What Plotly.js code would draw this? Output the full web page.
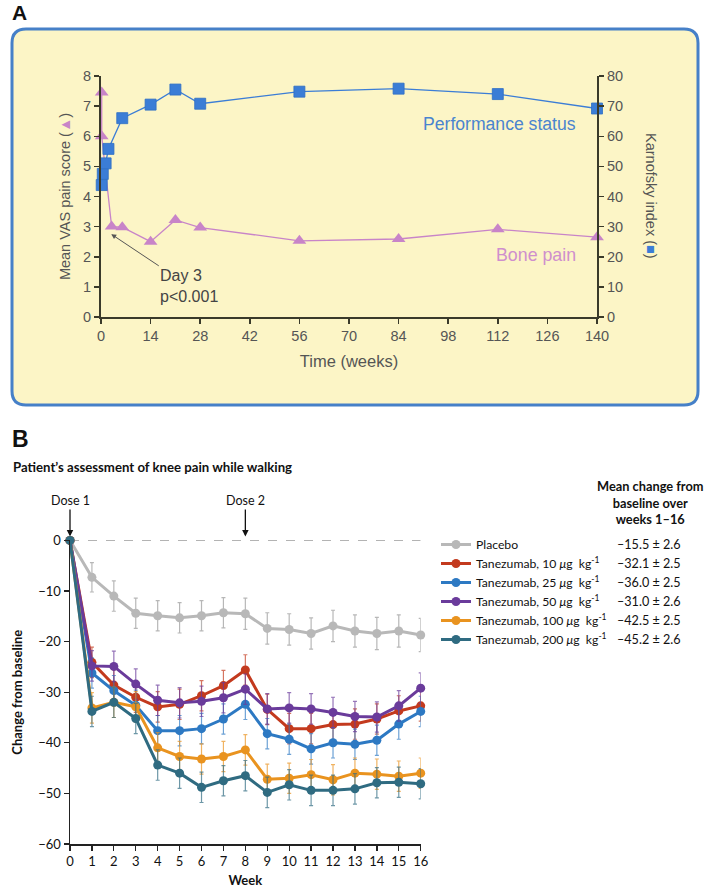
<!DOCTYPE html>
<html>
<head>
<meta charset="utf-8">
<script src="https://cdn.plot.ly/plotly-3.0.1.min.js"></script>
<style>html,body{margin:0;padding:0;background:#fff;}#chart{width:709px;height:890px;}</style>
</head>
<body>
<div id="chart"></div>
<script>
// ---------- Panel A data ----------
const perfWeeks = [0.2, 0.5, 1.3, 2.1, 6, 14, 21, 28, 56, 84, 112, 140];
const karnofsky = [43.8, 47.5, 51, 55.8, 66, 70.5, 75.5, 70.8, 74.8, 75.8, 74, 69.2];
const painWeeks = [0.2, 0.2, 3, 6, 14, 21, 28, 56, 84, 112, 140];
const vasPain = [7.45, 6.0, 3.0, 2.98, 2.5, 3.22, 2.97, 2.53, 2.59, 2.91, 2.65];
const weekTicksA = [0, 14, 28, 42, 56, 70, 84, 98, 112, 126, 140];

// ---------- Panel B data ----------
const weeksB = [0,1,2,3,4,5,6,7,8,9,10,11,12,13,14,15,16];
const seriesNames = ['Placebo', 'Tanezumab, 10 <i>μ</i>g  kg<sup>-1</sup>', 'Tanezumab, 25 <i>μ</i>g  kg<sup>-1</sup>',
  'Tanezumab, 50 <i>μ</i>g  kg<sup>-1</sup>', 'Tanezumab, 100 <i>μ</i>g  kg<sup>-1</sup>', 'Tanezumab, 200 <i>μ</i>g  kg<sup>-1</sup>'];
const placebo = [0,-7.3,-11.0,-14.4,-14.9,-15.3,-14.9,-14.3,-14.5,-17.4,-17.6,-18.4,-16.9,-17.9,-18.4,-17.9,-18.7];
const tz10  = [0,-24.1,-28.6,-31.0,-32.9,-32.4,-30.7,-28.7,-25.6,-33.4,-37.2,-37.2,-36.4,-36.3,-35.3,-33.7,-32.7];
const tz25  = [0,-26.2,-29.7,-32.6,-37.6,-37.6,-37.2,-35.3,-32.4,-38.2,-39.3,-41.2,-40.0,-40.3,-39.5,-36.3,-33.8];
const tz50  = [0,-24.8,-24.9,-28.4,-31.6,-32.1,-31.8,-31.1,-29.4,-33.3,-33.1,-33.3,-34.0,-34.8,-34.9,-32.7,-29.2];
const tz100 = [0,-33.1,-32.0,-32.9,-41.0,-42.7,-43.2,-42.7,-41.4,-47.2,-47.0,-46.3,-47.3,-46.0,-46.2,-46.6,-46.0];
const tz200 = [0,-33.8,-32.0,-35.2,-44.4,-46.0,-48.8,-47.5,-46.5,-49.8,-48.3,-49.4,-49.4,-49.1,-47.9,-47.8,-48.1];
const errPlacebo = [0,2.9,3.0,3.0,3.0,3.0,3.0,3.0,3.1,3.1,3.1,3.1,3.1,3.2,3.2,3.2,3.3];
const errTz = [0,3.0,3.0,3.0,3.0,3.0,3.0,3.0,3.0,3.0,3.0,3.0,3.0,3.0,3.0,3.0,3.0];
const meanChange = [-15.5, -32.1, -36.0, -31.0, -42.5, -45.2];
const meanSE = [2.6, 2.5, 2.5, 2.6, 2.5, 2.6];
const weekTicksB = [0,1,2,3,4,5,6,7,8,9,10,11,12,13,14,15,16];
const changeTicks = [-60,-50,-40,-30,-20,-10,0];

// ---------- helpers (pixel -> paper) ----------
const W = 709, H = 890;
const px = v => v / W;
const py = v => 1 - v / H;

const fontA = 'Liberation Sans, Arial, sans-serif';
const fontB = 'Lato, Open Sans, sans-serif';
const blueA = '#3b7dd6';
const pinkA = '#c884c8';

const colorsB = ['#b8b8b8', '#c33a1e', '#2d79c3', '#6a3b9b', '#e9931f', '#2f6b81'];
const errColorsB = ['rgba(170,170,170,0.85)', 'rgba(195,58,30,0.7)', 'rgba(45,121,195,0.7)',
  'rgba(106,59,155,0.7)', 'rgba(233,147,31,0.7)', 'rgba(47,107,129,0.7)'];
const dataB = [placebo, tz10, tz25, tz50, tz100, tz200];
const errB = [errPlacebo, errTz, errTz, errTz, errTz, errTz];

const traces = [
  {x: painWeeks, y: vasPain, xaxis: 'x', yaxis: 'y', type: 'scatter', mode: 'lines+markers',
   line: {color: pinkA, width: 1.3}, marker: {symbol: 'triangle-up', size: 12, color: pinkA},
   cliponaxis: false, showlegend: false, name: 'Bone pain'},
  {x: perfWeeks, y: karnofsky, xaxis: 'x', yaxis: 'y2', type: 'scatter', mode: 'lines+markers',
   line: {color: blueA, width: 1.3}, marker: {symbol: 'square', size: 11, color: blueA, line: {color: '#2f6fc4', width: 0.8}},
   cliponaxis: false, showlegend: false, name: 'Performance status'}
];
dataB.forEach((vals, i) => {
  traces.push({
    x: weeksB, y: vals, xaxis: 'x3', yaxis: 'y3', type: 'scatter', mode: 'lines+markers',
    name: seriesNames[i],
    line: {color: colorsB[i], width: 3},
    marker: {color: colorsB[i], size: 9},
    error_y: {type: 'data', array: errB[i], visible: true, color: errColorsB[i], thickness: 1.2, width: 2},
    cliponaxis: false
  });
});

// rounded box for panel A
const bx0 = 12, bx1 = 698, by0 = 29, by1 = 405, r = 14;
const boxPath = `M ${px(bx0+r)} ${py(by0)} L ${px(bx1-r)} ${py(by0)} Q ${px(bx1)} ${py(by0)} ${px(bx1)} ${py(by0+r)} ` +
  `L ${px(bx1)} ${py(by1-r)} Q ${px(bx1)} ${py(by1)} ${px(bx1-r)} ${py(by1)} L ${px(bx0+r)} ${py(by1)} ` +
  `Q ${px(bx0)} ${py(by1)} ${px(bx0)} ${py(by1-r)} L ${px(bx0)} ${py(by0+r)} Q ${px(bx0)} ${py(by0)} ${px(bx0+r)} ${py(by0)} Z`;

const annotations = [
  {text: '<b>A</b>', xref: 'paper', yref: 'paper', x: px(10), y: py(13), xanchor: 'left', yanchor: 'middle',
   showarrow: false, font: {family: fontA, size: 21, color: '#111'}},
  {text: '<b>B</b>', xref: 'paper', yref: 'paper', x: px(10), y: py(439), xanchor: 'left', yanchor: 'middle',
   showarrow: false, font: {family: fontA, size: 23, color: '#111'}},
  {text: '<b>Patient’s assessment of knee pain while walking</b>', xref: 'paper', yref: 'paper', x: px(11), y: py(467),
   xanchor: 'left', yanchor: 'middle', showarrow: false, font: {family: fontB, size: 13.2, color: '#111'}},
  // Panel A labels
  {text: 'Performance status', xref: 'paper', yref: 'paper', x: px(499), y: py(124), xanchor: 'center', yanchor: 'middle',
   showarrow: false, font: {family: fontA, size: 17.6, color: '#4a84cf'}},
  {text: 'Bone pain', xref: 'paper', yref: 'paper', x: px(536), y: py(255), xanchor: 'center', yanchor: 'middle',
   showarrow: false, font: {family: fontA, size: 17.8, color: '#cf8fcd'}},
  {text: 'Day 3<br>p<0.001', xref: 'x', yref: 'y', x: 2.9, y: 2.75, ax: 78, ay: 52, align: 'left',
   showarrow: true, arrowhead: 2, arrowsize: 1, arrowwidth: 1, arrowcolor: '#555',
   font: {family: fontA, size: 16, color: '#444'}},
  {text: 'Karnofsky index (<span style="color:' + blueA + '">■</span>)', xref: 'paper', yref: 'paper', x: px(651), y: py(196),
   xanchor: 'center', yanchor: 'middle', textangle: 90, showarrow: false, font: {family: fontA, size: 14.5, color: '#555'}},
  // Panel B dose arrows
  {text: 'Dose 1', xref: 'x3', yref: 'y3', x: 0, y: 0, ax: 0, ay: -40, showarrow: true, arrowhead: 2, arrowsize: 1,
   arrowwidth: 1.3, arrowcolor: '#111', standoff: 4, font: {family: fontB, size: 12.5, color: '#111'}},
  {text: 'Dose 2', xref: 'x3', yref: 'y3', x: 8, y: 0, ax: 0, ay: -40, showarrow: true, arrowhead: 2, arrowsize: 1,
   arrowwidth: 1.3, arrowcolor: '#111', standoff: 4, font: {family: fontB, size: 12.5, color: '#111'}},
  {text: '<b>Mean change from<br>baseline over<br>weeks 1–16</b>', xref: 'paper', yref: 'paper', x: px(650), y: py(502),
   xanchor: 'center', yanchor: 'middle', showarrow: false, font: {family: fontB, size: 12.8, color: '#111'}}
];
meanChange.forEach((m, i) => {
  annotations.push({
    text: '–' + Math.abs(m).toFixed(1) + ' ± ' + meanSE[i].toFixed(1), xref: 'paper', yref: 'paper',
    x: px(683), y: py(544 + 19 * i), xanchor: 'right', yanchor: 'middle', showarrow: false,
    font: {family: fontB, size: 12.6, color: '#111'}
  });
});

const layout = {
  width: W, height: H,
  margin: {l: 0, r: 0, t: 0, b: 0, pad: 0},
  paper_bgcolor: '#ffffff', plot_bgcolor: 'rgba(0,0,0,0)',
  showlegend: true,
  legend: {x: px(436), y: py(530), xanchor: 'left', yanchor: 'top', bgcolor: 'rgba(0,0,0,0)',
    font: {family: fontB, size: 12.2, color: '#111'}, tracegroupgap: 0, itemwidth: 30},
  xaxis: {domain: [px(101), px(597)], range: [0, 140], tickvals: weekTicksA, anchor: 'y',
    showgrid: false, zeroline: false, showline: true, linecolor: '#3a3a2a', linewidth: 2,
    ticks: 'outside', ticklen: 5, tickwidth: 1.5, tickcolor: '#3a3a2a',
    tickfont: {family: fontA, size: 14.5, color: '#555'},
    title: {text: 'Time (weeks)', font: {family: fontA, size: 16.5, color: '#555'}, standoff: 12}},
  yaxis: {domain: [py(317), py(76)], range: [0, 8], dtick: 1, anchor: 'x',
    showgrid: false, zeroline: false, showline: true, linecolor: '#3a3a2a', linewidth: 2,
    ticks: 'outside', ticklen: 5, tickwidth: 1.5, tickcolor: '#3a3a2a',
    tickfont: {family: fontA, size: 14.5, color: '#555'},
    title: {text: 'Mean VAS pain score (<span style="color:' + pinkA + '">▲</span>)', font: {family: fontA, size: 14.5, color: '#555'}, standoff: 9}},
  yaxis2: {overlaying: 'y', side: 'right', anchor: 'x', range: [0, 80], dtick: 10,
    showgrid: false, zeroline: false, showline: true, linecolor: '#3a3a2a', linewidth: 2,
    ticks: 'outside', ticklen: 5, tickwidth: 1.5, tickcolor: '#3a3a2a',
    tickfont: {family: fontA, size: 14.5, color: '#555'}},
  xaxis3: {domain: [px(70), px(420.7)], range: [0, 16], tickvals: weekTicksB, anchor: 'y3',
    showgrid: false, zeroline: false, showline: true, linecolor: '#222', linewidth: 1.5,
    ticks: 'outside', ticklen: 5, tickwidth: 1.3, tickcolor: '#222',
    tickfont: {family: fontB, size: 13, color: '#111'},
    title: {text: '<b>Week</b>', font: {family: fontB, size: 13, color: '#111'}, standoff: 8}},
  yaxis3: {domain: [py(844), py(540.4)], range: [-60, 0], tickvals: changeTicks, anchor: 'x3',
    showgrid: false, zeroline: false, showline: true, linecolor: '#222', linewidth: 1.5,
    ticks: 'outside', ticklen: 5, tickwidth: 1.3, tickcolor: '#222',
    tickfont: {family: fontB, size: 13, color: '#111'},
    title: {text: '<b>Change from baseline</b>', font: {family: fontB, size: 13, color: '#111'}, standoff: 12}},
  shapes: [
    {type: 'path', xref: 'paper', yref: 'paper', path: boxPath, fillcolor: '#fcf5c6',
     line: {color: '#4680c8', width: 3}, layer: 'below'},
    {type: 'line', xref: 'x3', yref: 'y3', x0: 0, x1: 16, y0: 0, y1: 0,
     line: {color: '#555', width: 1, dash: 'dash'}, layer: 'below'}
  ],
  annotations: annotations
};

Plotly.newPlot('chart', traces, layout, {displayModeBar: false, staticPlot: true});
</script>
</body>
</html>
